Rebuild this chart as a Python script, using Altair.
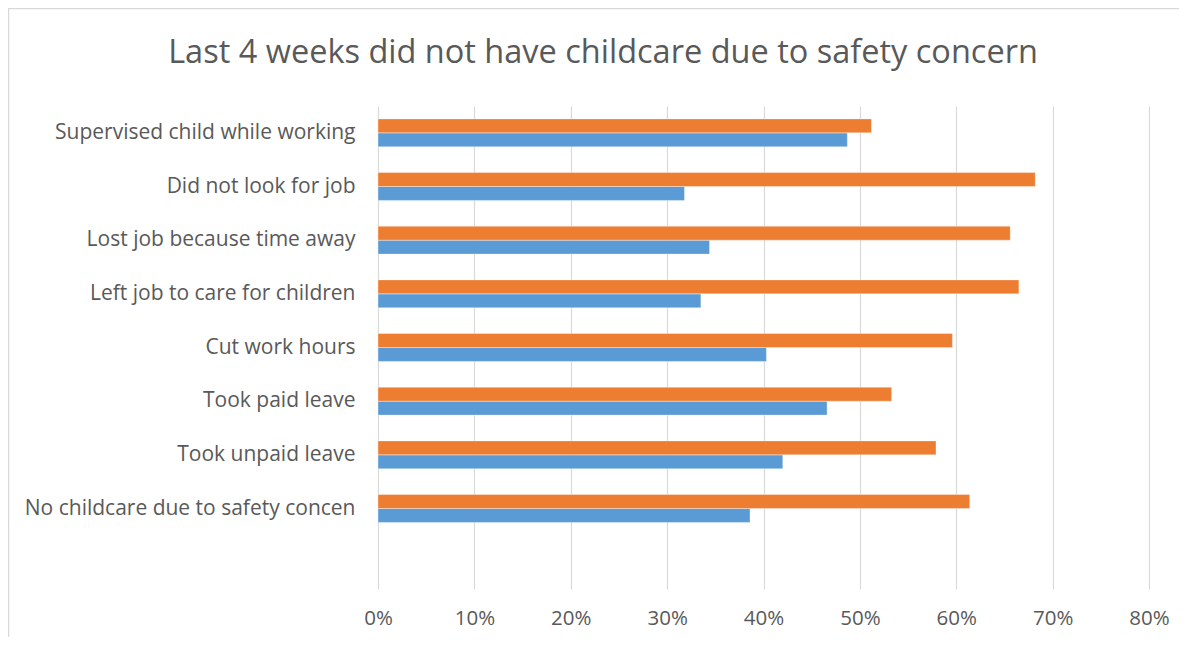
import altair as alt
import pandas as pd

categories = [
    "Supervised child while working",
    "Did not look for job",
    "Lost job because time away",
    "Left job to care for children",
    "Cut work hours",
    "Took paid leave",
    "Took unpaid leave",
    "No childcare due to safety concen",
]
series1_blue = [0.487, 0.318, 0.344, 0.335, 0.403, 0.466, 0.420, 0.386]
series2_orange = [0.512, 0.682, 0.656, 0.665, 0.596, 0.533, 0.579, 0.614]
series_names = ["Series2", "Series1"]
x_ticks = [0, 0.1, 0.2, 0.3, 0.4, 0.5, 0.6, 0.7, 0.8]
title_text = "Last 4 weeks did not have childcare due to safety concern"

rows = []
for c, b, o in zip(categories, series1_blue, series2_orange):
    rows.append({"category": c, "series": "Series1", "value": b})
    rows.append({"category": c, "series": "Series2", "value": o})
df = pd.DataFrame(rows)

FONT = "Open Sans"
TXT = "#595959"

bars = alt.Chart(df).mark_bar(stroke="white", strokeWidth=0.6, strokeOpacity=0.6).encode(
    x=alt.X("value:Q",
            scale=alt.Scale(domain=[0, 0.8], nice=False),
            axis=alt.Axis(format=".0%", values=x_ticks, title=None, grid=True,
                          gridColor="#D9D9D9", gridWidth=1.2, domain=False, ticks=False,
                          labelFlush=False,
                          labelFont=FONT, labelFontSize=20.5, labelColor=TXT, labelPadding=19)),
    y=alt.Y("category:N",
            scale=alt.Scale(domain=categories + [""], paddingInner=0.48, paddingOuter=0.24),
            axis=alt.Axis(title=None, domain=False, ticks=False, grid=False,
                          labelFont=FONT, labelFontSize=21, labelColor=TXT, labelPadding=23,
                          labelLimit=400)),
    yOffset=alt.YOffset("series:N", scale=alt.Scale(domain=series_names, paddingInner=0, paddingOuter=0)),
    color=alt.Color("series:N",
                    scale=alt.Scale(domain=["Series1", "Series2"], range=["#5B9BD5", "#ED7D31"]),
                    legend=None),
)

border = alt.Chart(pd.DataFrame({"a": [0]})).mark_rect(
    fill=None, stroke="#D9D9D9", strokeWidth=1.5
).encode(
    x=alt.value(-369.5), x2=alt.value(830),
    y=alt.value(-97.5), y2=alt.value(560),
)

title = alt.Chart(pd.DataFrame({"t": [title_text]})).mark_text(
    font=FONT, fontSize=32.5, color=TXT, align="center", baseline="alphabetic"
).encode(
    text="t:N", x=alt.value(225), y=alt.value(-43),
)

chart = alt.layer(border, bars, title).properties(
    width=771,
    height=483,
    autosize=alt.AutoSizeParams(type="none"),
    padding={"left": 370, "top": 98, "right": 30, "bottom": 48},
).configure_view(stroke=None)

chart.save("out.html", embed_options={"renderer": "svg", "actions": False})
